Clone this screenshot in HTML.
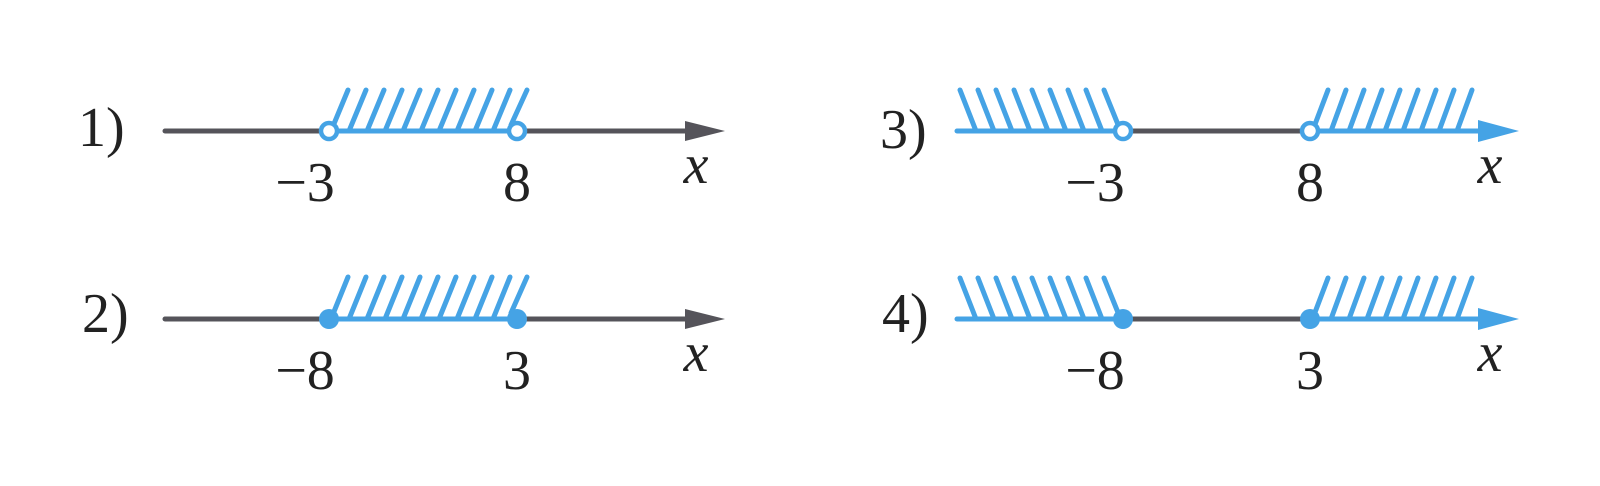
<!DOCTYPE html>
<html><head><style>
html,body{margin:0;padding:0;background:#fff;}
svg text{font-family:"Liberation Serif",serif;fill:#222;}
</style></head><body>
<svg width="1600" height="481" viewBox="0 0 1600 481" xmlns="http://www.w3.org/2000/svg">
<!-- Panel 1 -->
<text x="78" y="146" font-size="56">1)</text>
<line x1="165" y1="131" x2="695" y2="131" stroke="#55545a" stroke-width="5" stroke-linecap="round"/>
<polygon points="685,121 725,131 685,141" fill="#55545a"/>
<g stroke="#45a3e5" stroke-width="5" stroke-linecap="round" fill="none">
<line x1="329" y1="131" x2="517" y2="131"/>
<path d="M331,131 L348,90 M349,131 L366,90 M367,131 L384,90 M385,131 L402,90 M403,131 L420,90 M421,131 L438,90 M439,131 L456,90 M457,131 L474,90 M475,131 L492,90 M493,131 L510,90 M511,125 L527,90"/>
</g>
<circle cx="329" cy="131" r="8" fill="#fff" stroke="#45a3e5" stroke-width="4.5"/>
<circle cx="517" cy="131" r="8" fill="#fff" stroke="#45a3e5" stroke-width="4.5"/>
<text x="305" y="201" font-size="56" text-anchor="middle">−3</text>
<text x="517" y="201" font-size="56" text-anchor="middle">8</text>
<text x="696" y="183" font-size="56" font-style="italic" text-anchor="middle">x</text>

<!-- Panel 2 -->
<text x="82" y="332" font-size="56">2)</text>
<line x1="165" y1="319" x2="695" y2="319" stroke="#55545a" stroke-width="5" stroke-linecap="round"/>
<polygon points="685,309 725,319 685,329" fill="#55545a"/>
<g stroke="#45a3e5" stroke-width="5" stroke-linecap="round" fill="none">
<line x1="329" y1="319" x2="517" y2="319"/>
<path d="M331,319 L348,277 M349,319 L366,277 M367,319 L384,277 M385,319 L402,277 M403,319 L420,277 M421,319 L438,277 M439,319 L456,277 M457,319 L474,277 M475,319 L492,277 M493,319 L510,277 M511,313 L527,277"/>
</g>
<circle cx="329" cy="319" r="10" fill="#45a3e5"/>
<circle cx="517" cy="319" r="10" fill="#45a3e5"/>
<text x="305" y="389" font-size="56" text-anchor="middle">−8</text>
<text x="517" y="389" font-size="56" text-anchor="middle">3</text>
<text x="696" y="371" font-size="56" font-style="italic" text-anchor="middle">x</text>

<!-- Panel 3 -->
<text x="880" y="148" font-size="56">3)</text>
<line x1="1123" y1="131" x2="1310" y2="131" stroke="#55545a" stroke-width="5"/>
<g stroke="#45a3e5" stroke-width="5" stroke-linecap="round" fill="none">
<line x1="957" y1="131" x2="1123" y2="131"/>
<line x1="1310" y1="131" x2="1490" y2="131"/>
<path d="M960,90 L976,131 M978,90 L994,131 M996,90 L1012,131 M1014,90 L1030,131 M1032,90 L1048,131 M1050,90 L1066,131 M1068,90 L1084,131 M1086,90 L1102,131 M1104,90 L1119,127"/>
<path d="M1314,127 L1328,90 M1331,131 L1346,90 M1349,131 L1364,90 M1367,131 L1382,90 M1385,131 L1400,90 M1403,131 L1418,90 M1421,131 L1436,90 M1439,131 L1454,90 M1457,131 L1472,90"/>
</g>
<polygon points="1478,120 1519,131 1478,142" fill="#45a3e5"/>
<circle cx="1123" cy="131" r="8" fill="#fff" stroke="#45a3e5" stroke-width="4.5"/>
<circle cx="1310" cy="131" r="8" fill="#fff" stroke="#45a3e5" stroke-width="4.5"/>
<text x="1095" y="201" font-size="56" text-anchor="middle">−3</text>
<text x="1310" y="201" font-size="56" text-anchor="middle">8</text>
<text x="1490" y="183" font-size="56" font-style="italic" text-anchor="middle">x</text>

<!-- Panel 4 -->
<text x="882" y="332" font-size="56">4)</text>
<line x1="1123" y1="319" x2="1310" y2="319" stroke="#55545a" stroke-width="5"/>
<g stroke="#45a3e5" stroke-width="5" stroke-linecap="round" fill="none">
<line x1="957" y1="319" x2="1123" y2="319"/>
<line x1="1310" y1="319" x2="1490" y2="319"/>
<path d="M960,278 L976,319 M978,278 L994,319 M996,278 L1012,319 M1014,278 L1030,319 M1032,278 L1048,319 M1050,278 L1066,319 M1068,278 L1084,319 M1086,278 L1102,319 M1104,278 L1119,315"/>
<path d="M1314,315 L1328,278 M1331,319 L1346,278 M1349,319 L1364,278 M1367,319 L1382,278 M1385,319 L1400,278 M1403,319 L1418,278 M1421,319 L1436,278 M1439,319 L1454,278 M1457,319 L1472,278"/>
</g>
<polygon points="1478,308 1519,319 1478,330" fill="#45a3e5"/>
<circle cx="1123" cy="319" r="10" fill="#45a3e5"/>
<circle cx="1310" cy="319" r="10" fill="#45a3e5"/>
<text x="1095" y="389" font-size="56" text-anchor="middle">−8</text>
<text x="1310" y="389" font-size="56" text-anchor="middle">3</text>
<text x="1490" y="371" font-size="56" font-style="italic" text-anchor="middle">x</text>
</svg>
</body></html>
